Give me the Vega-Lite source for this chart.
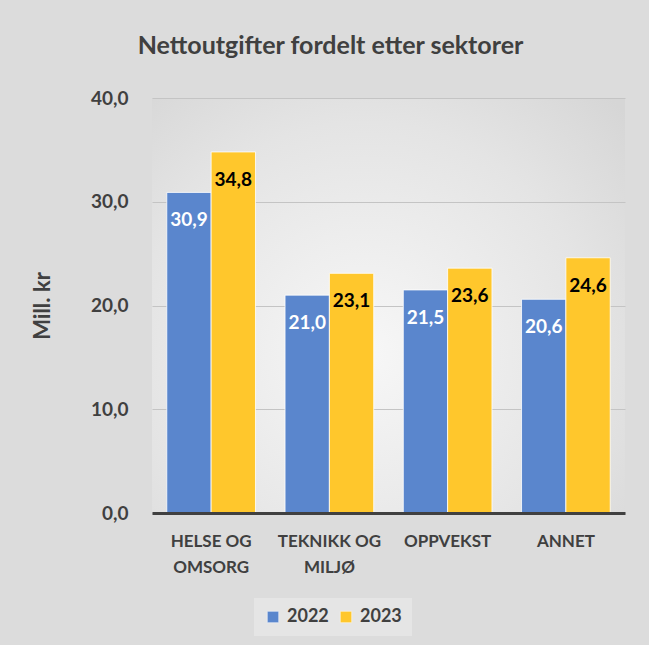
{
  "$schema": "https://vega.github.io/schema/vega-lite/v6.json",
  "width": 473,
  "height": 415,
  "autosize": {"type": "none"},
  "padding": {"left": 152, "top": 98, "right": 24, "bottom": 132},
  "background": "#dcdcdc",
  "config": {
    "locale": {"number": {"decimal": ",", "thousands": " ", "grouping": [3], "currency": ["", " kr"]}},
    "font": "Lato",
    "view": {
      "stroke": null,
      "fill": {
        "gradient": "radial",
        "x1": 0.45, "y1": 0.6, "r1": 0,
        "x2": 0.45, "y2": 0.6, "r2": 0.75,
        "stops": [
          {"offset": 0, "color": "#f7f7f7"},
          {"offset": 0.65, "color": "#e4e4e4"},
          {"offset": 1, "color": "#d6d6d6"}
        ]
      }
    }
  },
  "title": {
    "text": "Nettoutgifter fordelt etter sektorer",
    "anchor": "middle",
    "dx": -58,
    "offset": 30,
    "fontSize": 25,
    "fontWeight": "bold",
    "color": "#404040",
    "font": "Lato"
  },
  "data": {
    "values": [
      {"sector": "HELSE OG OMSORG", "year": "2022", "value": 30.9},
      {"sector": "HELSE OG OMSORG", "year": "2023", "value": 34.8},
      {"sector": "TEKNIKK OG MILJØ", "year": "2022", "value": 21.0},
      {"sector": "TEKNIKK OG MILJØ", "year": "2023", "value": 23.1},
      {"sector": "OPPVEKST", "year": "2022", "value": 21.5},
      {"sector": "OPPVEKST", "year": "2023", "value": 23.6},
      {"sector": "ANNET", "year": "2022", "value": 20.6},
      {"sector": "ANNET", "year": "2023", "value": 24.6}
    ]
  },
  "encoding": {
    "x": {
      "field": "sector",
      "type": "nominal",
      "sort": null,
      "scale": {"paddingInner": 0.25, "paddingOuter": 0.125},
      "axis": {
        "title": null,
        "labelAngle": 0,
        "labelFontSize": 17,
        "labelFontWeight": "bold",
        "labelColor": "#404040",
        "labelPadding": 20,
        "labelLineHeight": 26,
        "labelBaseline": "top",
        "labelExpr": "datum.label == 'HELSE OG OMSORG' ? ['HELSE OG', 'OMSORG'] : datum.label == 'TEKNIKK OG MILJØ' ? ['TEKNIKK OG', 'MILJØ'] : datum.label",
        "ticks": false,
        "domainColor": "#404040",
        "domainWidth": 3,
        "zindex": 1
      }
    },
    "xOffset": {"field": "year", "type": "nominal", "scale": {"paddingInner": 0, "paddingOuter": 0}},
    "y": {
      "field": "value",
      "type": "quantitative",
      "scale": {"domain": [0, 40]},
      "axis": {
        "title": "Mill. kr",
        "titleFontSize": 22,
        "titleFontWeight": "bold",
        "titleColor": "#404040",
        "titlePadding": 36,
        "values": [0, 10, 20, 30, 40],
        "labelOverlap": false,
        "format": ".1f",
        "labelFontSize": 19,
        "labelFontWeight": "bold",
        "labelColor": "#404040",
        "labelPadding": 24,
        "ticks": false,
        "domain": false,
        "gridColor": "#c4c4c4",
        "gridWidth": 1.2
      }
    }
  },
  "layer": [
    {
      "mark": {"type": "bar", "stroke": "#ffffff", "strokeWidth": 0.8},
      "encoding": {
        "color": {
          "field": "year",
          "type": "nominal",
          "scale": {"domain": ["2022", "2023"], "range": ["#5a86cd", "#ffc72c"]},
          "legend": {
            "title": null,
            "orient": "none",
            "direction": "horizontal",
            "legendX": 102,
            "legendY": 500,
            "symbolType": "square",
            "symbolSize": 130,
            "symbolStrokeColor": "#ffffff",
            "symbolStrokeWidth": 0.5,
            "labelFontSize": 18,
            "labelFontWeight": "bold",
            "labelColor": "#404040",
            "labelOffset": 5,
            "columnPadding": 8,
            "fillColor": "rgba(255,255,255,0.25)",
            "padding": 10
          }
        }
      }
    },
    {
      "mark": {"type": "text", "dy": 28, "fontSize": 19, "fontWeight": "bold", "baseline": "middle"},
      "encoding": {
        "text": {"field": "value", "type": "quantitative", "format": ".1f"},
        "color": {
          "condition": {"test": "datum.year == '2022'", "value": "#ffffff"},
          "value": "#000000"
        }
      }
    }
  ]
}
